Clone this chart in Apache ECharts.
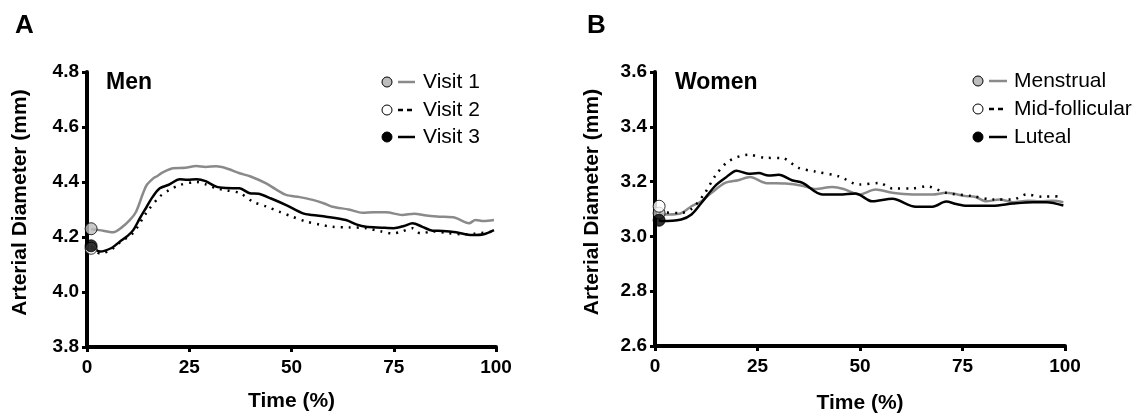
<!DOCTYPE html>
<html>
<head>
<meta charset="utf-8">
<script src="https://cdn.jsdelivr.net/npm/echarts@6/dist/echarts.min.js"></script>
<style>
  html, body { margin: 0; padding: 0; background: #fff; }
  #main { width: 1148px; height: 419px; }
</style>
</head>
<body>
<div id="main"></div>
<script type="text/javascript">
// ---- data ----
var xTicks = [0, 25, 50, 75, 100];

// Panel A: men
var menNames = ['Visit 1', 'Visit 2', 'Visit 3'];
var menV1Time = [1, 3, 6.4, 8.5, 10.5, 12, 13.7, 14.6, 16.2, 17, 18.5, 21, 24, 26.7, 29, 31.6, 34, 37.3, 40, 43.8, 46, 48.7, 52, 55.2, 58, 60, 64, 67.4, 70, 73.1, 77.1, 80, 83, 86.1, 90, 93.4, 95, 97, 99.5];
var menV1 = [4.228, 4.225, 4.217, 4.235, 4.262, 4.292, 4.359, 4.389, 4.413, 4.42, 4.435, 4.45, 4.452, 4.458, 4.455, 4.457, 4.45, 4.432, 4.42, 4.395, 4.375, 4.353, 4.345, 4.335, 4.322, 4.31, 4.30, 4.288, 4.29, 4.29, 4.28, 4.285, 4.278, 4.274, 4.27, 4.25, 4.262, 4.258, 4.262];
var menV2Time = [1, 3.2, 6, 8, 11.3, 14.6, 17.8, 20, 22.7, 26.8, 29, 31.6, 34, 37.3, 40.6, 44, 47, 50, 53.6, 57, 60, 64, 68.2, 72, 74.7, 77, 79.6, 81.5, 84.5, 88, 91.5, 95, 99.5];
var menV2 = [4.16, 4.14, 4.155, 4.18, 4.215, 4.29, 4.347, 4.37, 4.389, 4.4, 4.392, 4.377, 4.37, 4.36, 4.328, 4.31, 4.292, 4.275, 4.256, 4.245, 4.237, 4.235, 4.232, 4.22, 4.213, 4.22, 4.232, 4.213, 4.22, 4.215, 4.21, 4.212, 4.22];
var menV3Time = [1, 3.2, 6, 8, 10, 11.3, 13, 14.6, 16, 17.8, 20, 22.7, 24.5, 26.8, 29, 31.6, 34, 37.3, 39.8, 42, 45, 48.7, 52.8, 55, 58.5, 63.3, 66, 68.2, 72, 75, 77.5, 79.6, 82, 84.5, 87, 90.2, 94.2, 97, 99.5];
var menV3 = [4.168, 4.147, 4.16, 4.183, 4.205, 4.225, 4.27, 4.31, 4.345, 4.377, 4.39, 4.41, 4.408, 4.41, 4.403, 4.383, 4.378, 4.377, 4.359, 4.357, 4.34, 4.316, 4.286, 4.28, 4.274, 4.262, 4.245, 4.237, 4.234, 4.232, 4.24, 4.25, 4.237, 4.223, 4.222, 4.217, 4.207, 4.21, 4.225];
var menStart = [4.23, 4.159, 4.168];   // baseline dots at t = 1

// Panel B: women
var womenNames = ['Menstrual', 'Mid-follicular', 'Luteal'];
var wMensTime = [1, 2, 6, 8.9, 11.3, 13.8, 17.1, 20.3, 23.2, 26.9, 31.8, 35.9, 39.1, 43.2, 46, 49.8, 53.8, 57.9, 62.8, 67.7, 71, 75.9, 78, 80.8, 84, 87.3, 91, 93.9, 97, 99.6];
var wMens = [3.08, 3.08, 3.083, 3.11, 3.128, 3.159, 3.195, 3.205, 3.217, 3.195, 3.193, 3.185, 3.173, 3.18, 3.173, 3.153, 3.171, 3.159, 3.153, 3.153, 3.159, 3.147, 3.145, 3.128, 3.135, 3.125, 3.13, 3.128, 3.13, 3.125];
var wMidTime = [1, 2, 6, 8.9, 12.2, 14.6, 17.9, 22.8, 26.9, 31, 35, 39, 44.9, 49.8, 54.7, 57.9, 62.8, 66.1, 71, 77.5, 82.4, 87.3, 90.6, 94.5, 99.6];
var wMid = [3.09, 3.088, 3.085, 3.1, 3.159, 3.219, 3.274, 3.298, 3.287, 3.286, 3.25, 3.237, 3.219, 3.189, 3.195, 3.175, 3.175, 3.183, 3.159, 3.147, 3.135, 3.135, 3.153, 3.145, 3.147];
var wLutTime = [1, 1.5, 6.4, 8.9, 11.3, 14.6, 17.1, 19.9, 22.8, 25.3, 27.7, 30.2, 33.4, 36, 40.8, 44.9, 48.9, 53, 57.9, 63.6, 67.7, 71, 73.5, 76, 82.4, 87.3, 92.2, 95.5, 99.6];
var wLut = [3.06, 3.056, 3.062, 3.08, 3.122, 3.183, 3.213, 3.24, 3.229, 3.231, 3.222, 3.225, 3.205, 3.195, 3.153, 3.153, 3.157, 3.128, 3.137, 3.108, 3.108, 3.127, 3.118, 3.112, 3.112, 3.12, 3.125, 3.125, 3.113];
var womenStart = [3.085, 3.11, 3.059];

// ---- styles ----
var FONT = 'Liberation Sans, Arial, Helvetica, sans-serif';
var lineStyles = [
  { color: '#8a8a8a', width: 2.5, type: 'solid' },
  { color: '#000', width: 2.5, type: [2, 6] },
  { color: '#000', width: 2.5, type: 'solid' }
];
var dotFill = ['#bdbdbd', '#ffffff', '#000000'];

function zip(t, v) {
  return t.map(function (x, i) { return [x, v[i]]; });
}

function xAxisCfg(gridIndex, gap) {
  return {
    gridIndex: gridIndex, type: 'value', min: 0, max: 100, interval: 25,
    name: 'Time (%)', nameLocation: 'middle', nameGap: gap,
    nameTextStyle: { fontFamily: FONT, fontSize: 21, fontWeight: 'bold', color: '#000' },
    axisLine: { onZero: false, lineStyle: { color: '#000', width: 4 } },
    axisTick: { length: 5, lineStyle: { color: '#000', width: 3 } },
    axisLabel: { fontFamily: FONT, fontSize: 19, fontWeight: 'bold', color: '#000', margin: 11 },
    splitLine: { show: false }
  };
}

function yAxisCfg(gridIndex, min, max, gap) {
  return {
    gridIndex: gridIndex, type: 'value', min: min, max: max, interval: 0.2,
    name: 'Arterial Diameter (mm)', nameLocation: 'middle', nameGap: gap,
    nameTextStyle: { fontFamily: FONT, fontSize: 21, fontWeight: 'bold', color: '#000', padding: [0, 0, 0, 14] },
    axisLine: { show: true, onZero: false, lineStyle: { color: '#000', width: 4 } },
    axisTick: { show: true, length: 5, lineStyle: { color: '#000', width: 3 } },
    axisLabel: { fontFamily: FONT, fontSize: 19, fontWeight: 'bold', color: '#000', margin: 8,
      formatter: function (v) { return v.toFixed(1); } },
    splitLine: { show: false }
  };
}

function lineSeries(idx, time, vals, k) {
  return {
    type: 'line', xAxisIndex: idx, yAxisIndex: idx,
    data: zip(time, vals), showSymbol: false, smooth: 0.3,
    lineStyle: lineStyles[k], silent: true, z: 2
  };
}

function startDots(idx, vals, order) {
  return order.map(function (k) {
    return {
      type: 'scatter', xAxisIndex: idx, yAxisIndex: idx,
      data: [[1, vals[k]]], symbol: 'circle', symbolSize: 12,
      itemStyle: { color: dotFill[k], borderColor: '#000', borderWidth: 1 },
      silent: true, z: 5
    };
  });
}

// legend drawn as: circle, short line sample, label
function legendItems(names, cx, lx0, lx1, tx, ys) {
  var out = [];
  names.forEach(function (name, k) {
    var y = ys[k];
    out.push({ type: 'circle', shape: { cx: cx, cy: y, r: 5 },
      style: { fill: dotFill[k], stroke: '#000', lineWidth: 1 } });
    out.push({ type: 'line', shape: { x1: lx0, y1: y, x2: lx1, y2: y },
      style: { stroke: lineStyles[k].color, lineWidth: 2.5,
        lineDash: k === 1 ? [5, 4] : null } });
    out.push({ type: 'text', x: tx, y: y,
      style: { text: name, font: '21px ' + FONT, fill: '#000', verticalAlign: 'middle' } });
  });
  return out;
}

var chart = echarts.init(document.getElementById('main'));
chart.setOption({
  backgroundColor: '#fff',
  animation: false,
  title: [
    { text: 'A', left: 10, top: 8, textStyle: { fontFamily: FONT, fontSize: 26, fontWeight: 'bold', color: '#000' } },
    { text: 'B', left: 582, top: 8, textStyle: { fontFamily: FONT, fontSize: 26, fontWeight: 'bold', color: '#000' } },
    { text: 'Men', left: 101, top: 66, textStyle: { fontFamily: FONT, fontSize: 23, fontWeight: 'bold', color: '#000' } },
    { text: 'Women', left: 670, top: 66, textStyle: { fontFamily: FONT, fontSize: 23, fontWeight: 'bold', color: '#000' } }
  ],
  grid: [
    { left: 87, right: 652, top: 72, bottom: 72 },
    { left: 655, right: 83, top: 72, bottom: 72 }
  ],
  xAxis: [xAxisCfg(0, 44), xAxisCfg(1, 47)],
  yAxis: [yAxisCfg(0, 3.8, 4.8, 56), yAxisCfg(1, 2.6, 3.6, 52)],
  series: [
    lineSeries(0, menV1Time, menV1, 0),
    lineSeries(0, menV2Time, menV2, 1),
    lineSeries(0, menV3Time, menV3, 2),
    lineSeries(1, wMensTime, wMens, 0),
    lineSeries(1, wMidTime, wMid, 1),
    lineSeries(1, wLutTime, wLut, 2)
  ].concat(startDots(0, menStart, [1, 2, 0]))
   .concat(startDots(1, womenStart, [0, 1, 2])),
  graphic: legendItems(menNames, 387, 398, 415, 423, [82, 110, 137])
    .concat(legendItems(womenNames, 978, 989, 1007, 1014, [81, 109, 137]))
});
</script>
</body>
</html>
